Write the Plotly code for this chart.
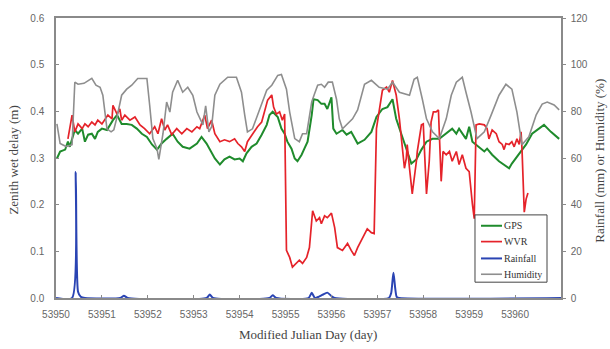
import plotly.graph_objects as go

MJD0 = 53950

# GPS zenith wet delay (m); time as days since MJD0
gps_t = [0.02, 0.09, 0.20, 0.26, 0.30, 0.35, 0.41, 0.48, 0.57, 0.63, 0.70, 0.78, 0.85, 0.91, 1.00,
         1.11, 1.17, 1.24, 1.33, 1.43, 1.54, 1.65, 1.76, 1.87, 1.98, 2.09, 2.20, 2.30, 2.41, 2.54,
         2.65, 2.76, 2.91, 3.07, 3.17, 3.28, 3.46, 3.57, 3.67, 3.78, 3.89, 4.00, 4.07, 4.15, 4.26,
         4.37, 4.48, 4.59, 4.65, 4.72, 4.83, 4.91, 4.98, 5.04, 5.13, 5.20, 5.26, 5.35, 5.41, 5.48,
         5.57, 5.61, 5.70, 5.78, 5.85, 5.91, 6.00, 6.04, 6.11, 6.24, 6.33, 6.43, 6.57, 6.72, 6.87,
         6.98, 7.11, 7.22, 7.33, 7.41, 7.52, 7.63, 7.74, 7.85, 7.96, 8.07, 8.20, 8.35, 8.50, 8.63,
         8.72, 8.78, 8.93, 9.00, 9.07, 9.22, 9.33, 9.39, 9.50, 9.65, 9.76, 9.87, 9.93, 10.09, 10.24,
         10.37, 10.52, 10.63, 10.78, 10.96]
gps_zwd = [0.299, 0.314, 0.318, 0.335, 0.324, 0.341, 0.360, 0.352, 0.363, 0.335, 0.350, 0.352, 0.341, 0.356, 0.363,
           0.360, 0.371, 0.381, 0.392, 0.373, 0.373, 0.371, 0.363, 0.352, 0.345, 0.329, 0.318, 0.331, 0.341, 0.352,
           0.335, 0.324, 0.320, 0.331, 0.345, 0.331, 0.299, 0.286, 0.297, 0.303, 0.297, 0.299, 0.293, 0.310, 0.324,
           0.331, 0.350, 0.371, 0.392, 0.399, 0.388, 0.363, 0.352, 0.335, 0.320, 0.299, 0.293, 0.307, 0.320, 0.335,
           0.392, 0.426, 0.424, 0.416, 0.416, 0.405, 0.430, 0.363, 0.352, 0.360, 0.350, 0.356, 0.331, 0.339, 0.356,
           0.388, 0.405, 0.409, 0.426, 0.384, 0.352, 0.318, 0.288, 0.297, 0.318, 0.335, 0.341, 0.341, 0.352, 0.363,
           0.352, 0.363, 0.341, 0.367, 0.335, 0.324, 0.314, 0.320, 0.307, 0.293, 0.286, 0.278, 0.288, 0.310, 0.329,
           0.352, 0.363, 0.371, 0.356, 0.341]

# WVR zenith wet delay (m)
wvr_t = [0.26, 0.35, 0.41, 0.48, 0.57, 0.63, 0.70, 0.78, 0.85, 0.91, 1.00, 1.07, 1.13, 1.22, 1.24,
         1.33, 1.39, 1.43, 1.50, 1.61, 1.72, 1.83, 1.93, 2.04, 2.15, 2.22, 2.30, 2.37, 2.43, 2.52,
         2.63, 2.74, 2.85, 2.96, 3.07, 3.13, 3.24, 3.30, 3.39, 3.46, 3.57, 3.67, 3.78, 3.89, 3.96,
         4.04, 4.11, 4.17, 4.28, 4.39, 4.48, 4.54, 4.61, 4.70, 4.74, 4.80, 4.87, 4.93, 4.98, 5.02,
         5.09, 5.15, 5.24, 5.30, 5.37, 5.46, 5.52, 5.59, 5.67, 5.74, 5.78, 5.85, 5.91, 6.00, 6.07,
         6.13, 6.24, 6.35, 6.43, 6.50, 6.57, 6.65, 6.72, 6.78, 6.87, 6.93, 6.98, 7.04, 7.11, 7.20,
         7.26, 7.33, 7.41, 7.48, 7.54, 7.59, 7.63, 7.65, 7.70, 7.76, 7.85, 7.87, 7.96, 8.00, 8.02,
         8.07, 8.13, 8.17, 8.22, 8.28, 8.33, 8.35, 8.39, 8.43, 8.50, 8.57, 8.63, 8.72, 8.78, 8.85,
         8.93, 9.00, 9.04, 9.07, 9.11, 9.15, 9.22, 9.33, 9.39, 9.43, 9.50, 9.59, 9.65, 9.72, 9.76,
         9.80, 9.87, 9.93, 9.98, 10.04, 10.09, 10.13, 10.15, 10.20, 10.24, 10.28]
wvr_zwd = [0.341, 0.392, 0.356, 0.373, 0.363, 0.373, 0.367, 0.377, 0.371, 0.381, 0.373, 0.384, 0.392, 0.384, 0.413,
           0.394, 0.405, 0.381, 0.392, 0.381, 0.388, 0.371, 0.363, 0.352, 0.367, 0.352, 0.384, 0.360, 0.371, 0.350,
           0.363, 0.352, 0.363, 0.356, 0.367, 0.363, 0.392, 0.363, 0.381, 0.352, 0.335, 0.339, 0.335, 0.341, 0.331,
           0.324, 0.314, 0.335, 0.352, 0.367, 0.377, 0.399, 0.424, 0.435, 0.409, 0.394, 0.399, 0.381, 0.394, 0.102,
           0.087, 0.066, 0.074, 0.081, 0.074, 0.087, 0.108, 0.187, 0.165, 0.172, 0.159, 0.176, 0.172, 0.182, 0.151,
           0.108, 0.102, 0.117, 0.102, 0.091, 0.108, 0.123, 0.138, 0.148, 0.140, 0.138, 0.363, 0.399, 0.445, 0.452,
           0.441, 0.466, 0.435, 0.384, 0.324, 0.278, 0.299, 0.329, 0.278, 0.223, 0.293, 0.314, 0.371, 0.373, 0.329,
           0.223, 0.293, 0.377, 0.399, 0.399, 0.403, 0.335, 0.250, 0.314, 0.307, 0.314, 0.293, 0.314, 0.286, 0.307,
           0.278, 0.271, 0.223, 0.201, 0.170, 0.371, 0.373, 0.371, 0.363, 0.341, 0.360, 0.352, 0.335, 0.329, 0.318,
           0.331, 0.329, 0.335, 0.324, 0.341, 0.329, 0.356, 0.320, 0.184, 0.212, 0.225]

# Rainfall (mm)
rain_t = [0.00, 0.35, 0.43, 0.48, 0.54, 0.63, 1.40, 1.48, 1.56, 3.28, 3.35, 3.42, 4.65, 4.72, 4.80,
          5.50, 5.57, 5.64, 5.72, 5.80, 5.91, 6.00, 6.07, 7.25, 7.30, 7.35, 7.42, 7.48, 11.00]
rain_mm = [0, 0, 54.0, 2.7, 0.5, 0, 0, 1.0, 0, 0, 1.5, 0, 0, 1.2, 0,
           0, 2.2, 0, 0.5, 1.3, 2.3, 0.8, 0, 0, 2.0, 10.8, 0.5, 0, 0]

# Relative humidity (%)
hum_t = [0.02, 0.09, 0.22, 0.35, 0.41, 0.48, 0.61, 0.78, 0.87, 0.96, 1.02, 1.11, 1.20, 1.26, 1.33,
         1.43, 1.54, 1.65, 1.78, 1.98, 2.04, 2.11, 2.20, 2.24, 2.33, 2.41, 2.48, 2.54, 2.65, 2.76,
         2.87, 2.98, 3.07, 3.20, 3.26, 3.33, 3.39, 3.46, 3.57, 3.74, 3.93, 4.04, 4.11, 4.17, 4.28,
         4.39, 4.50, 4.59, 4.70, 4.83, 4.91, 5.02, 5.09, 5.20, 5.30, 5.37, 5.46, 5.57, 5.63, 5.70,
         5.78, 5.85, 5.93, 6.02, 6.11, 6.17, 6.24, 6.35, 6.46, 6.57, 6.65, 6.72, 6.87, 7.04, 7.22,
         7.33, 7.48, 7.70, 7.80, 7.87, 7.98, 8.07, 8.20, 8.35, 8.50, 8.61, 8.72, 8.85, 8.93, 9.04,
         9.17, 9.33, 9.48, 9.65, 9.80, 9.93, 10.04, 10.15, 10.30, 10.46, 10.59, 10.70, 10.85, 10.96]
hum_pct = [74.6, 66.2, 64.9, 65.7, 92.5, 91.6, 92.0, 94.1, 91.2, 90.3, 86.9, 72.5, 71.2, 72.1, 77.6,
           86.9, 89.5, 91.2, 94.1, 94.1, 82.7, 68.3, 64.0, 59.4, 70.4, 84.0, 79.7, 88.2, 93.3, 88.2,
           90.3, 86.9, 79.7, 74.2, 82.3, 71.2, 73.4, 86.9, 91.6, 94.6, 94.6, 88.2, 78.5, 71.2, 72.5,
           78.5, 84.8, 89.1, 91.2, 95.4, 95.8, 89.5, 79.7, 68.3, 67.0, 70.4, 70.4, 84.0, 87.4, 91.2,
           91.6, 90.3, 92.5, 92.5, 85.2, 76.8, 72.5, 74.6, 76.8, 80.6, 86.1, 91.6, 93.3, 90.3, 89.5,
           92.5, 88.2, 86.9, 93.7, 94.6, 85.2, 76.8, 71.2, 68.3, 76.8, 86.9, 92.5, 94.6, 88.2, 79.7,
           68.3, 71.2, 78.5, 86.9, 91.6, 89.5, 79.7, 65.7, 69.1, 78.5, 83.1, 84.0, 82.7, 80.6]

x_ticks = list(range(53950, 53961))
legend_names = ["GPS", "WVR", "Rainfall", "Humidity"]

def mjd(ts):
    return [MJD0 + t for t in ts]

colors = {"GPS": "#1f8b2c", "WVR": "#e5232a", "Rainfall": "#2a44b3", "Humidity": "#8e8e8e"}
widths = {"GPS": 2, "WVR": 1.7, "Rainfall": 2, "Humidity": 1.6}

fig = go.Figure()
fig.add_trace(go.Scatter(x=mjd(hum_t), y=hum_pct, name="Humidity", yaxis="y2", mode="lines",
                         line=dict(color=colors["Humidity"], width=widths["Humidity"])))
fig.add_trace(go.Scatter(x=mjd(gps_t), y=gps_zwd, name="GPS", mode="lines",
                         line=dict(color=colors["GPS"], width=widths["GPS"])))
fig.add_trace(go.Scatter(x=mjd(wvr_t), y=wvr_zwd, name="WVR", mode="lines",
                         line=dict(color=colors["WVR"], width=widths["WVR"])))
fig.add_trace(go.Scatter(x=mjd(rain_t), y=rain_mm, name="Rainfall", yaxis="y2", mode="lines",
                         line=dict(color=colors["Rainfall"], width=widths["Rainfall"],
                                   shape="spline", smoothing=0.6)))

tick_font = dict(family="Liberation Sans", size=10, color="#666666")
serif = "Liberation Serif"

# Hand-drawn legend box (paper coordinates)
box = dict(x0=0.8297, x1=0.9723, y0=0.0565, y1=0.2968)
sample_x0, sample_x1 = 0.8416, 0.8832
row_y = [0.258, 0.2014, 0.1413, 0.0848]

shapes = [dict(type="rect", xref="paper", yref="paper", layer="above",
               fillcolor="white", line=dict(color="#444444", width=1), **box)]
annotations = []
for name, yy in zip(legend_names, row_y):
    shapes.append(dict(type="line", xref="paper", yref="paper", layer="above",
                       x0=sample_x0, x1=sample_x1, y0=yy, y1=yy,
                       line=dict(color=colors[name], width=widths[name])))
    annotations.append(dict(text=name, x=sample_x1, y=yy, xref="paper", yref="paper",
                            showarrow=False, xanchor="left", yanchor="middle",
                            font=dict(family=serif, size=10, color="#333333")))

annotations += [
    dict(text="Modified Julian Day (day)", x=0.499, y=-0.131, xref="paper", yref="paper",
         showarrow=False, xanchor="center", yanchor="middle",
         font=dict(family=serif, size=13, color="#444444")),
    dict(text="Zenith wet delay (m)", x=-0.085, y=0.491, xref="paper", yref="paper",
         showarrow=False, textangle=-90, xanchor="center", yanchor="middle",
         font=dict(family=serif, size=13, color="#444444")),
    dict(text="Rainfall (mm) or Humidity (%)", x=1.077, y=0.49, xref="paper", yref="paper",
         showarrow=False, textangle=-90, xanchor="center", yanchor="middle",
         font=dict(family=serif, size=13, color="#444444")),
]

fig.update_layout(
    width=610, height=349,
    margin=dict(l=56, r=49, t=15, b=51),
    paper_bgcolor="white", plot_bgcolor="white",
    showlegend=False,
    xaxis=dict(range=[53950, 53961], tickvals=x_ticks, ticktext=[str(v) for v in x_ticks],
               showgrid=False, zeroline=False, showline=True, linecolor="#8a8a8a", linewidth=1.5,
               mirror=True, ticks="inside", ticklen=3, tickcolor="#8a8a8a",
               tickfont=tick_font, ticklabelstandoff=6),
    yaxis=dict(range=[0, 0.6], dtick=0.1, tickformat=".1f",
               showgrid=False, zeroline=False, showline=True, linecolor="#8a8a8a", linewidth=1.5,
               ticks="inside", ticklen=3, tickcolor="#8a8a8a",
               tickfont=tick_font, ticklabelstandoff=8),
    yaxis2=dict(range=[0, 120], dtick=20, overlaying="y", side="right",
                showgrid=False, zeroline=False, showline=True, linecolor="#8a8a8a", linewidth=1.5,
                ticks="outside", ticklen=3, tickcolor="#8a8a8a",
                tickfont=tick_font, ticklabelstandoff=3),
    shapes=shapes,
    annotations=annotations,
)

fig.write_html("out.html")
